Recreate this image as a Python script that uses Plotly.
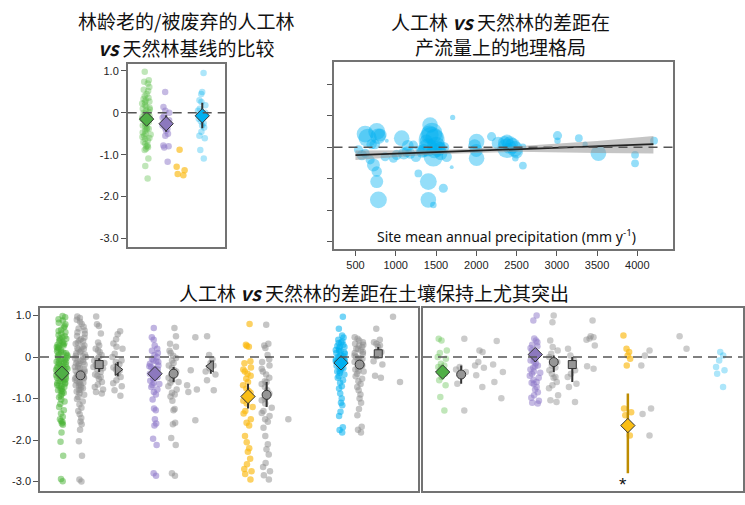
import plotly.graph_objects as go

# ------------------------------------------------------------------
# DATA
# ------------------------------------------------------------------
# Panel A: old/abandoned plantations vs natural baseline
A_green = [0.98, 0.78, 0.74, 0.7, 0.62, 0.55, 0.52, 0.45, 0.4, 0.36, 0.3, 0.27, 0.22, 0.18, 0.15,
           0.12, 0.08, 0.05, 0.02, -0.02, -0.05, -0.08, -0.1, -0.13, -0.16, -0.2, -0.22, -0.26,
           -0.3, -0.33, -0.36, -0.4, -0.43, -0.47, -0.5, -0.55, -0.58, -0.62, -0.66, -0.7, -0.74,
           -0.78, -0.82, -0.86, -0.89, -1.09, -1.27, -1.57, 0.33, 0.1, -0.15, -0.38, -0.6, 0.0,
           0.25, -0.28, -0.52, -0.8]
A_purple = [0.5, 0.14, 0.05, 0.0, -0.08, -0.12, -0.18, -0.25, -0.3, -0.35, -0.42, -0.5, -0.55,
            -0.78, -0.83, -0.8, -1.17, -0.22, -0.38]
A_yellow = [-0.88, -1.29, -1.37, -1.46, -1.49]
A_blue = [0.95, 0.5, 0.45, 0.3, 0.26, 0.18, 0.05, 0.0, -0.05, -0.1, -0.14, -0.2, -0.3, -0.35,
          -0.45, -0.55, -0.61, -0.89, -1.09, 0.1, -0.25]
A_mean = [-0.15, -0.26, -0.07]          # green, purple, blue
A_lo = [-0.28, -0.45, -0.37]
A_hi = [-0.03, -0.06, 0.24]

# Panel B: precipitation gradient
B_precip = [620, 764, 806, 537, 723, 764, 764, 785, 682, 889, 1074, 1012, 1219, 1281, 1426, 1446,
            1467, 1405, 1405, 1591, 1467, 1707, 1695, 2004, 2004, 2190, 2273, 2397, 1136, 971,
            1633, 1302, 1550, 620, 868, 2381, 2579, 2579, 3009, 3009, 3274, 3352, 3517, 3972,
            3972, 4208, 2485, 1420, 1500, 1480, 1380, 2350, 2450, 2500, 700, 580, 1180, 1330,
            1600, 1250, 650, 780, 740, 1450, 1400, 1520, 1480, 1350, 2420, 2480, 2380, 2000,
            1980, 1150, 1100, 1560]
B_diff = [0.42, 0.5, 0.39, -0.08, -0.56, -0.77, -1.09, -1.67, -0.4, 0.21, 0.29, -0.24, 0.07,
          -0.83, 0.71, 0.23, -0.3, -1.09, -1.67, -1.3, -1.83, 0.95, -0.63, 0.18, -0.35, 0.34,
          0.13, -0.03, -0.14, -0.35, -0.3, -0.08, -0.03, -0.19, -0.3, -0.03, 0.02, -0.58, 0.37,
          0.21, 0.29, 0.1, -0.19, -0.24, -0.51, 0.21, -0.35, 0.4, 0.05, -0.1, 0.2, 0.15, 0.05,
          -0.15, 0.1, -0.25, -0.2, -0.15, 0.0, -0.3, 0.3, 0.35, 0.1, 0.45, 0.0, -0.05, 0.3,
          -0.1, 0.1, -0.05, 0.2, -0.1, 0.05, 0.05, -0.2, -0.2]
B_weight = [13, 13, 10, 7, 10, 8, 10, 13, 7, 3, 12, 8, 7, 6, 12, 20, 15, 13, 12, 7, 5, 4, 3, 12,
            12, 7, 10, 8, 8, 7, 8, 7, 10, 7, 7, 15, 5, 6, 7, 5, 6, 4, 12, 6, 6, 6, 5, 14, 14, 12,
            10, 10, 12, 10, 8, 8, 8, 9, 8, 8, 14, 12, 8, 16, 14, 12, 14, 10, 12, 12, 10, 10, 10,
            9, 9, 10]
B_fit_x = [500, 1500, 2500, 3500, 4200]
B_fit_y = [-0.25, -0.155, -0.06, 0.035, 0.1]
B_fit_lo = [-0.4, -0.22, -0.14, -0.18, -0.2]
B_fit_hi = [-0.1, -0.09, 0.03, 0.2, 0.36]
B_xticks = [500, 1000, 1500, 2000, 2500, 3000, 3500, 4000]

# Panel C: all plantations vs natural (groups by service)
C_green = [0.99, 0.96, 0.91, 0.88, 0.83, 0.79, 0.74, 0.71, 0.66, 0.63, 0.6, 0.57, 0.53, 0.5, 0.47,
           0.44, 0.41, 0.39, 0.36, 0.33, 0.31, 0.28, 0.26, 0.23, 0.21, 0.18, 0.16, 0.14, 0.11,
           0.09, 0.07, 0.04, 0.02, 0.0, -0.02, -0.04, -0.07, -0.09, -0.11, -0.13, -0.15, -0.18,
           -0.2, -0.22, -0.24, -0.26, -0.28, -0.31, -0.33, -0.35, -0.37, -0.39, -0.41, -0.43,
           -0.46, -0.48, -0.5, -0.52, -0.55, -0.57, -0.59, -0.62, -0.64, -0.67, -0.69, -0.72,
           -0.74, -0.77, -0.8, -0.83, -0.86, -0.89, -0.93, -0.97, -1.02, -1.07, -1.13, -1.2,
           -1.28, -1.36, -1.44, -1.5, -1.54, -1.57, -1.6, -1.63, -1.82, -2.04, -2.38, -2.94,
           -2.99, 0.45, 0.3, 0.12, -0.06, -0.17, -0.29, -0.38, -0.47, -0.58, -0.7, -0.81, 0.24,
           0.05, -0.12, -0.25, -0.34, -0.44, -0.53, -0.63]
C_gray1 = [0.98, 0.94, 0.9, 0.85, 0.8, 0.73, 0.69, 0.64, 0.6, 0.56, 0.51, 0.47, 0.43, 0.39, 0.35,
           0.32, 0.28, 0.25, 0.21, 0.18, 0.15, 0.12, 0.09, 0.06, 0.03, 0.0, -0.03, -0.06, -0.09,
           -0.12, -0.15, -0.18, -0.21, -0.24, -0.27, -0.3, -0.33, -0.36, -0.39, -0.42, -0.45,
           -0.48, -0.51, -0.54, -0.57, -0.6, -0.63, -0.66, -0.69, -0.72, -0.75, -0.79, -0.83,
           -0.87, -0.91, -0.96, -1.01, -1.07, -1.14, -1.22, -1.3, -1.38, -1.47, -1.55, -1.62,
           -1.75, -2.03, -2.38, -2.95, -3.0, 0.2, 0.02, -0.16, -0.35, -0.5, -0.68, 0.4, -0.1,
           -0.26, -0.44, -0.62, -0.8]
C_gray2 = [0.98, 0.79, 0.75, 0.57, 0.35, 0.28, 0.2, 0.12, 0.05, 0.0, -0.04, -0.09, -0.14, -0.19,
           -0.24, -0.3, -0.36, -0.42, -0.48, -0.53, -0.6, -0.66, -0.72, -0.78, -0.84, -0.88,
           0.16, -0.1, -0.27, -0.45]
C_gray3 = [0.62, 0.55, 0.43, 0.33, 0.2, 0.08, 0.0, -0.08, -0.17, -0.25, -0.33, -0.4, -0.48,
           -0.56, -0.63, -0.7, -0.8, -0.93, 0.25, -0.12, -0.3]
C_purple = [0.7, 0.48, 0.42, 0.28, 0.15, 0.1, 0.05, 0.0, -0.04, -0.08, -0.12, -0.16, -0.2, -0.24,
            -0.28, -0.32, -0.36, -0.4, -0.44, -0.48, -0.52, -0.57, -0.62, -0.67, -0.72, -0.78,
            -0.84, -0.9, -1.02, -1.24, -1.28, -1.5, -1.6, -1.65, -1.97, -2.12, -2.8, -2.86,
            -0.3, -0.1, -0.5, -0.65, 0.2, -0.22, -0.45]
C_gray6 = [0.7, 0.5, 0.32, 0.25, 0.1, 0.03, -0.02, -0.08, -0.14, -0.2, -0.26, -0.32, -0.38,
           -0.44, -0.5, -0.56, -0.62, -0.7, -0.78, -0.86, -0.95, -1.05, -1.25, -1.28, -1.58,
           -1.62, -1.95, -2.12, -2.8, -2.86, 0.15, -0.35, -0.6, -0.9]
C_gray7 = [0.48, -0.32, -0.68, -0.78, -0.84, -1.52]
C_gray8 = [0.5, 0.05, -0.05, -0.14, -0.2, -0.27, -0.35, -0.42, -0.56, -0.8]
C_yellow = [0.8, 0.3, 0.27, 0.25, -0.1, -0.15, -0.25, -0.3, -0.35, -0.45, -0.52, -0.6, -0.68,
            -0.76, -0.82, -0.9, -0.97, -1.05, -1.12, -1.3, -1.36, -1.5, -1.58, -1.65, -1.9,
            -2.05, -2.2, -2.28, -2.45, -2.58, -2.7, -2.75, -2.82, -2.95, -0.4, -0.86, -1.2]
C_gray11 = [0.78, 0.32, 0.28, 0.22, 0.05, -0.05, -0.12, -0.2, -0.28, -0.35, -0.42, -0.5, -0.58,
            -0.65, -0.72, -0.8, -0.88, -0.96, -1.04, -1.12, -1.22, -1.3, -1.42, -1.5, -1.56,
            -1.7, -1.9, -2.1, -2.22, -2.35, -2.55, -2.65, -2.75, -2.85, -2.95, -0.6, -1.0, -1.35]
C_gray12 = [-1.5]
C_blue = [0.97, 0.68, 0.52, 0.47, 0.42, 0.38, 0.34, 0.3, 0.27, 0.24, 0.2, 0.17, 0.14, 0.11,
          0.08, 0.05, 0.02, 0.0, -0.03, -0.06, -0.09, -0.12, -0.15, -0.18, -0.21, -0.24, -0.27,
          -0.3, -0.34, -0.38, -0.42, -0.46, -0.5, -0.56, -0.62, -0.7, -0.76, -0.88, -1.0, -1.1,
          -1.16, -1.32, -1.42, -1.69, -1.76, -1.82, 0.35, 0.15, -0.05, -0.2, -0.35, 0.25, 0.0,
          -0.14, -0.26, 0.1, -0.1]
C_gray16 = [0.48, 0.44, 0.4, 0.36, 0.32, 0.28, 0.24, 0.2, 0.16, 0.12, 0.08, 0.04, 0.0, -0.04,
            -0.08, -0.12, -0.16, -0.2, -0.25, -0.3, -0.35, -0.4, -0.46, -0.52, -0.58, -0.65,
            -0.72, -0.8, -0.9, -1.0, -1.1, -1.25, -1.4, -1.68, -1.75, -1.82, 0.3, 0.1, -0.1,
            -0.22, -0.33, 0.2, -0.02, -0.15]
C_gray17 = [0.68, 0.42, 0.36, 0.32, 0.25, 0.12, 0.02, -0.1, -0.18, -0.45, -0.5, 0.28]
C_gray18 = [0.97, -0.6]
C_mean = [-0.39, -0.44, -0.18, -0.30, -0.40, -0.40, -0.22, -0.95, -0.91, -0.14, -0.18, 0.08]
C_lo = [-0.45, -0.50, -0.36, -0.46, -0.52, -0.60, -0.40, -1.24, -1.20, -0.20, -0.24, 0.0]
C_hi = [-0.33, -0.38, -0.03, -0.12, -0.28, -0.24, -0.08, -0.64, -0.60, -0.08, -0.12, 0.24]

# Panel D: soil retention subset
D_green = [0.44, 0.4, 0.16, 0.1, 0.0, -0.04, -0.16, -0.2, -0.24, -0.28, -0.32, -0.36, -0.4,
           -0.48, -0.56, -0.68, -0.96, -1.29]
D_gray1 = [0.44, -0.24, -0.3, -0.36, -0.64, -1.29]
D_gray2 = [0.16, 0.12, -0.12, -0.2, -0.26, -0.44, -0.72]
D_gray3 = [0.39, -0.18, -0.36, -0.6, -0.99]
D_purple = [1.0, 0.88, 0.45, 0.4, 0.36, 0.3, 0.22, 0.16, 0.1, 0.05, 0.0, -0.05, -0.1, -0.15,
            -0.2, -0.25, -0.3, -0.35, -0.4, -0.45, -0.5, -0.55, -0.6, -0.65, -0.72, -0.78,
            -0.85, -0.92, -0.98, -1.05, -1.1, -1.12, 0.26, -0.08, -0.22, -0.38, -0.62]
D_gray6 = [1.0, 0.84, 0.4, 0.24, 0.16, 0.08, 0.0, -0.12, -0.25, -0.32, -0.4, -0.48, -0.6,
           -0.68, -0.75, -0.92, -1.04, -1.08, -0.2, -0.5]
D_gray7 = [0.2, 0.04, -0.08, -0.2, -0.32, -0.48, -0.64, -0.72, -1.08, -0.4]
D_gray8 = [0.88, 0.5, 0.48, 0.45, 0.42, 0.28, -0.22, -0.28]
D_yellow = [0.52, 0.2, 0.12, 0.04, -0.04, -0.2, -1.24, -1.33, -1.4, -1.89]
D_gray11 = [0.16, 0.04, -0.2, -1.24, -1.37, -1.89]
D_gray13 = [0.5, 0.2]
D_blue = [0.12, 0.04, -0.08, -0.24, -0.32, -0.4, -0.72]
D_mean = [-0.36, -0.42, 0.06, -0.12, -0.18, -1.65]
D_lo = [-0.42, -0.64, -0.12, -0.36, -0.60, -2.80]
D_hi = [-0.30, -0.20, 0.20, 0.04, 0.0, -0.88]

Y_TICKS = [1, 0, -1, -2, -3]
Y_TICKTEXT = ['1.0', '0', '-1.0', '-2.0', '-3.0']

TITLE_A = ['林龄老的/被废弃的人工林', '<b><i>vs</i></b> 天然林基线的比较']
TITLE_B = ['人工林 <b><i>vs</i></b> 天然林的差距在', '产流量上的地理格局']
TITLE_BOTTOM = '人工林 <b><i>vs</i></b> 天然林的差距在土壤保持上尤其突出'
XLABEL_B = 'Site mean annual precipitation (mm y<sup>-1</sup>)'

# ------------------------------------------------------------------
# STYLE / LAYOUT
# ------------------------------------------------------------------
W, H = 745, 505
CJK = 'Noto Sans CJK SC'
NUM = 'Liberation Sans, Arial'
BUBBLE_SCALE = 1.3

def fx(p):
    return p / W

def fy(p):
    return 1 - p / H

C_PT = {
    'green': 'rgba(70,178,50,0.5)', 'gray': 'rgba(140,140,140,0.5)',
    'purple': 'rgba(140,118,200,0.55)', 'yellow': 'rgba(250,185,15,0.65)',
    'blue': 'rgba(0,176,240,0.55)',
}
C_LIGHT = {
    'green': 'rgba(90,188,70,0.38)', 'gray': 'rgba(140,140,140,0.45)',
    'purple': 'rgba(140,118,200,0.5)', 'yellow': 'rgba(250,185,15,0.65)',
    'blue': 'rgba(0,176,240,0.32)',
}
C_FILL = {
    'green': 'rgb(80,175,70)', 'gray': 'rgb(150,150,150)', 'purple': 'rgb(140,120,190)',
    'yellow': 'rgb(250,190,20)', 'blue': 'rgb(0,176,240)',
}

fig = go.Figure()


def strip(vals, pos, color, xa, ya, width):
    fig.add_trace(go.Box(
        y=vals, x0=pos, width=width, boxpoints='all', jitter=1, pointpos=0,
        fillcolor='rgba(0,0,0,0)', line=dict(width=0, color='rgba(0,0,0,0)'), whiskerwidth=0,
        marker=dict(color=color, size=6.5, line=dict(width=0)),
        xaxis=xa, yaxis=ya, showlegend=False, hoverinfo='y'))


def mean_mark(pos, m, lo, hi, symbol, fill, xa, ya, size, barcolor='#333', barw=2):
    fig.add_trace(go.Scatter(
        x=[pos], y=[m], mode='markers',
        marker=dict(symbol=symbol, size=size, color=fill, line=dict(color='#333', width=1)),
        error_y=dict(type='data', symmetric=False, array=[hi - m], arrayminus=[m - lo],
                     color=barcolor, thickness=barw, width=0),
        xaxis=xa, yaxis=ya, showlegend=False, hoverinfo='y'))


# ---- Panel A ----
A_slot = [0, 1, 1.75, 2.85]
for vals, slot, c in [(A_green, 0, 'green'), (A_purple, 1, 'purple'),
                      (A_yellow, 2, 'yellow'), (A_blue, 3, 'blue')]:
    strip(vals, A_slot[slot], C_LIGHT[c], 'x', 'y', 0.5)
for i, (slot, c) in enumerate([(0, 'green'), (1, 'purple'), (3, 'blue')]):
    mean_mark(A_slot[slot], A_mean[i], A_lo[i], A_hi[i], 'diamond', C_FILL[c], 'x', 'y', 11)

# ---- Panel B ----
fig.add_trace(go.Scatter(
    x=B_precip, y=B_diff, mode='markers',
    marker=dict(size=[w * BUBBLE_SCALE for w in B_weight], color='rgba(0,176,240,0.6)',
                line=dict(width=0)),
    xaxis='x2', yaxis='y2', showlegend=False, hoverinfo='x+y'))
fig.add_trace(go.Scatter(
    x=B_fit_x + B_fit_x[::-1], y=B_fit_hi + B_fit_lo[::-1], mode='lines', fill='toself',
    fillcolor='rgba(150,150,150,0.55)', line=dict(width=0),
    xaxis='x2', yaxis='y2', showlegend=False, hoverinfo='skip'))
fig.add_trace(go.Scatter(
    x=B_fit_x, y=B_fit_y, mode='lines', line=dict(color='#222', width=1.8),
    xaxis='x2', yaxis='y2', showlegend=False, hoverinfo='skip'))

# ---- Panel C ----
C_strips = [(C_green, 0, 'green'), (C_gray1, 1, 'gray'), (C_gray2, 2, 'gray'), (C_gray3, 3, 'gray'),
            (C_purple, 5, 'purple'), (C_gray6, 6, 'gray'), (C_gray7, 7, 'gray'), (C_gray8, 8, 'gray'),
            (C_yellow, 10, 'yellow'), (C_gray11, 11, 'gray'), (C_gray12, 12, 'gray'),
            (C_blue, 15, 'blue'), (C_gray16, 16, 'gray'), (C_gray17, 17, 'gray'),
            (C_gray18, 18, 'gray')]
for vals, slot, c in C_strips:
    strip(vals, slot, C_PT[c], 'x3', 'y3', 0.65)
C_marks = [(0, 'diamond', 'green', 11), (1, 'circle', 'gray', 9), (2, 'square', 'gray', 8),
           (3, 'triangle-right', 'gray', 10), (5, 'diamond', 'purple', 11), (6, 'circle', 'gray', 9),
           (8, 'triangle-left', 'gray', 10), (10, 'diamond', 'yellow', 11), (11, 'circle', 'gray', 9),
           (15, 'diamond', 'blue', 11), (16, 'circle', 'gray', 9), (17, 'square', 'gray', 8)]
for i, (slot, sym, c, s) in enumerate(C_marks):
    mean_mark(slot, C_mean[i], C_lo[i], C_hi[i], sym, C_FILL[c], 'x3', 'y3', s)

# ---- Panel D ----
D_strips = [(D_green, 0, 'green'), (D_gray1, 1, 'gray'), (D_gray2, 2, 'gray'), (D_gray3, 3, 'gray'),
            (D_purple, 5, 'purple'), (D_gray6, 6, 'gray'), (D_gray7, 7, 'gray'), (D_gray8, 8, 'gray'),
            (D_yellow, 10, 'yellow'), (D_gray11, 11, 'gray'), (D_gray13, 13, 'gray'),
            (D_blue, 15, 'blue')]
for vals, slot, c in D_strips:
    strip(vals, slot, C_LIGHT[c], 'x4', 'y4', 0.65)
D_marks = [(0, 'diamond', 'green', 11), (1, 'circle', 'gray', 9), (5, 'diamond', 'purple', 11),
           (6, 'circle', 'gray', 9), (7, 'square', 'gray', 8), (10, 'diamond', 'yellow', 11)]
for i, (slot, sym, c, s) in enumerate(D_marks):
    if c == 'yellow':
        mean_mark(slot, D_mean[i], D_lo[i], D_hi[i], sym, C_FILL[c], 'x4', 'y4', s,
                  barcolor='rgb(190,140,0)', barw=2.5)
    else:
        mean_mark(slot, D_mean[i], D_lo[i], D_hi[i], sym, C_FILL[c], 'x4', 'y4', s)

# ---- axes ----
frame = dict(showline=True, mirror=True, linecolor='rgb(115,115,115)', linewidth=1.5,
             showgrid=False, zeroline=False)
tickstyle = dict(ticks='outside', ticklen=5, tickwidth=1, tickcolor='#555',
                 tickfont=dict(family=NUM, size=11, color='#222'))
noticks = dict(ticks='', showticklabels=False)
ylab = dict(tickmode='array', tickvals=Y_TICKS, ticktext=Y_TICKTEXT)

fig.update_layout(
    width=W, height=H, margin=dict(l=0, r=0, t=0, b=0),
    paper_bgcolor='white', plot_bgcolor='white', showlegend=False, boxmode='overlay',
    xaxis=dict(domain=[fx(127.7), fx(225.3)], range=[-0.97, 4.03], type='linear', **frame, **noticks),
    yaxis=dict(domain=[fy(246.7), fy(64.3)], range=[-3.2, 1.16], **frame, **tickstyle, **ylab),
    xaxis2=dict(domain=[fx(333.5), fx(673.3)], range=[227, 4447], anchor='y2',
                tickmode='array', tickvals=B_xticks, **frame, **tickstyle),
    yaxis2=dict(domain=[fy(249.3), fy(62.3)], range=[-3.24, 2.7], anchor='x2',
                tickmode='array', tickvals=[-3, -2, -1, 0, 1, 2], showticklabels=False,
                ticks='outside', ticklen=5, tickcolor='#555', **frame),
    xaxis3=dict(domain=[fx(40), fx(417.7)], range=[-1.18, 19.12], anchor='y3', type='linear',
                **frame, **noticks),
    yaxis3=dict(domain=[fy(490.7), fy(307.7)], range=[-3.22, 1.19], anchor='x3',
                **frame, **tickstyle, **ylab),
    xaxis4=dict(domain=[fx(423), fx(742.7)], range=[-1.06, 16.2], anchor='y4', type='linear',
                **frame, **noticks),
    yaxis4=dict(domain=[fy(490.7), fy(307.7)], range=[-3.22, 1.19], anchor='x4',
                **frame, **noticks),
)

# zero reference lines
dash = dict(color='#555', width=1.5, dash='9px,6px')
for xr, yr in [('x', 'y'), ('x2', 'y2'), ('x3', 'y3'), ('x4', 'y4')]:
    fig.add_shape(type='line', xref=xr + ' domain', x0=0, x1=1, yref=yr, y0=0, y1=0,
                  line=dash, layer='above')

# titles and labels
tfont = dict(family=CJK, size=19, color='#111')
anns = [
    dict(x=fx(186), y=fy(20), text=TITLE_A[0]), dict(x=fx(186), y=fy(48), text=TITLE_A[1]),
    dict(x=fx(500), y=fy(21), text=TITLE_B[0]), dict(x=fx(500), y=fy(47), text=TITLE_B[1]),
    dict(x=fx(374), y=fy(292), text=TITLE_BOTTOM),
]
for a in anns:
    fig.add_annotation(xref='paper', yref='paper', showarrow=False, xanchor='center',
                       yanchor='middle', font=tfont, **a)
fig.add_annotation(xref='x2 domain', yref='y2 domain', x=0.51, y=0.07, text=XLABEL_B,
                   showarrow=False, xanchor='center', yanchor='middle',
                   font=dict(family='Noto Sans', size=14, color='#111'))
fig.add_annotation(xref='x4', yref='y4', x=9.75, y=-3.08, text='*', showarrow=False,
                   xanchor='center', yanchor='middle', font=dict(family=NUM, size=19, color='#111'))

fig.write_html('out.html', config={'displayModeBar': False},
               post_script="document.body.style.margin='0';document.body.style.overflow='hidden';")
